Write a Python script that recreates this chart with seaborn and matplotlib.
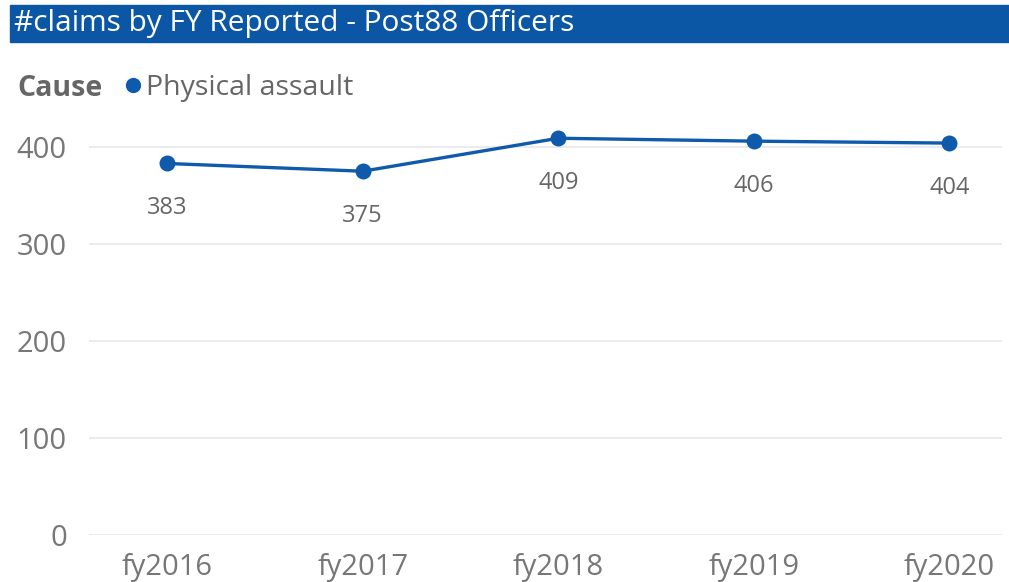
import matplotlib.pyplot as plt
import pandas as pd
import seaborn as sns
from matplotlib.lines import Line2D
from matplotlib.patches import Rectangle

# ── Data ─────────────────────────────────────────────────────────────
fiscal_years = ["fy2016", "fy2017", "fy2018", "fy2019", "fy2020"]
claims = [383, 375, 409, 406, 404]
cause = "Physical assault"
y_ticks = [0, 100, 200, 300, 400]

BLUE = "#0F5AAA"
GREY = "#666666"

sns.set_theme(style="white")
plt.rcParams["font.family"] = ["Open Sans", "DejaVu Sans"]

df = pd.DataFrame({"FY": fiscal_years, "Claims": claims})

fig = plt.figure(figsize=(10.09, 5.82), dpi=100)
ax = fig.add_axes([0.0882, 0.0808, 0.905, 0.70])

sns.lineplot(data=df, x="FY", y="Claims", ax=ax, color=BLUE, lw=2.4,
             marker="o", markersize=11.5, markeredgewidth=0, sort=False)

for i, v in enumerate(claims):
    ax.annotate(str(v), (i, v), xytext=(0, -32), textcoords="offset points",
                ha="center", va="center", fontsize=17, color=GREY)

ax.set_xlim(-0.4, 4.27)
ax.set_ylim(0, 420)
ax.set_yticks(y_ticks)
ax.yaxis.grid(True, color="#E8E8E8", lw=1.2)
ax.tick_params(axis="both", length=0, labelsize=21, labelcolor="#777777")
ax.tick_params(axis="y", pad=16)
ax.tick_params(axis="x", pad=13)
ax.set_xlabel("")
ax.set_ylabel("")
sns.despine(ax=ax, left=True, bottom=True)

# title bar
fig.patches.append(Rectangle((10 / 1009, 1 - 42 / 582), 1 - 10 / 1009, 37 / 582,
                             transform=fig.transFigure, color="#0B57A6", zorder=0))
fig.text(14 / 1009, 1 - 23 / 582, "#claims by FY Reported - Post88 Officers",
         color="white", fontsize=21.5, va="center", ha="left")

# legend
fig.text(17 / 1009, 1 - 88 / 582, "Cause", fontsize=20.5, fontweight="bold",
         color=GREY, va="center", ha="left")
handle = Line2D([], [], marker="o", linestyle="none", color=BLUE,
                markersize=11, markeredgewidth=0)
fig.legend([handle], [cause], loc="center left",
           bbox_to_anchor=(112 / 1009, 1 - 88 / 582), frameon=False,
           fontsize=20.5, labelcolor=GREY, handletextpad=-0.3,
           handlelength=1.5, borderaxespad=0, borderpad=0)

fig.savefig("out.png", dpi=100)
